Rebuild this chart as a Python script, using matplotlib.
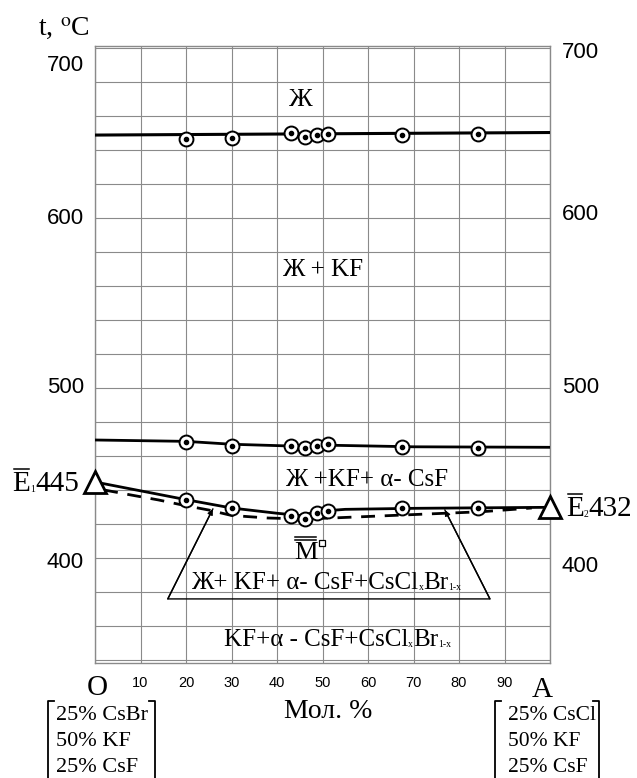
"""Polythermal section O-A of the CsBr-KF-CsF / CsCl-KF-CsF system."""

import matplotlib
matplotlib.use('Agg')
import matplotlib.pyplot as plt
from matplotlib.lines import Line2D

plt.rcParams['mathtext.fontset'] = 'stix'
SERIF = 'Liberation Serif'
SANS = 'Liberation Sans'

W, H = 637, 778

# composition, mol. % of A
pts_x = [20, 30, 43.0, 46.2, 48.8, 51.3, 67.5, 84.2]
# measured temperatures, °C
liquidus_t = [646.5, 647.0, 649.8, 647.8, 648.8, 649.4, 649.0, 649.2]
secondary_t = [468.4, 466.1, 465.9, 464.5, 465.9, 467.1, 465.5, 464.9]
ternary_t = [434.1, 429.2, 424.9, 423.0, 426.3, 427.8, 429.2, 429.2]

# drawn curves
liq_line_x = [0, 100]
liq_line_t = [648.8, 650.3]
sec_line_x = [0, 20, 30, 45, 52, 70, 100]
sec_line_t = [469.4, 468.6, 466.9, 465.7, 466.3, 465.4, 465.1]
ter_line_x = [0, 20, 30, 40, 45, 50, 55, 70, 100]
ter_line_t = [444.7, 434.3, 429.4, 426.3, 425.0, 427.6, 428.6, 429.2, 429.8]
dash_x = [2, 8, 14, 20, 25, 30, 38, 45, 52, 68, 85, 96]
dash_t = [440.0, 437.0, 434.1, 430.7, 428.2, 425.0, 423.5, 423.0, 423.5, 425.3, 427.2, 429.4]

# eutectic points of the side systems
eut_x = [0, 100]
eut_t = [444.7, 429.8]
eut_sub = ['1', '2']
eut_val = ['445', '432']

# point M
m_x = [49.9]
m_t = [408.8]

# trapezoid pointer for the four-phase field
trap_x = [25.9, 16.0, 86.8, 76.9]
trap_t = [428.8, 375.9, 375.9, 428.2]

x_ticks = [10, 20, 30, 40, 50, 60, 70, 80, 90]
left_labels = ['700', '600', '500', '400']
left_label_t = [690, 600, 500, 397.6]
right_labels = ['700', '600', '500', '400']
right_label_t = [697.6, 601.8, 500, 394.7]

comp_o = ['25% CsBr', '50% KF', '25% CsF']
comp_a = ['25% CsCl', '50% KF', '25% CsF']


def fx(px):
    return px / W


def fy(py):
    return 1 - py / H


fig = plt.figure(figsize=(W / 100, H / 100), dpi=100)
renderer = fig.canvas.get_renderer()


def pieces(x, y, parts, ha='left'):
    """Draw text pieces (text, size, rise_px) on one baseline; x, y in image px."""
    objs = []
    widths = []
    for s, size, rise in parts:
        t = fig.text(0, 0, s, family=SERIF, fontsize=size, va='baseline', ha='left')
        widths.append(t.get_window_extent(renderer).width)
        objs.append((t, rise))
    total = sum(widths)
    x0 = x - total / 2 if ha == 'center' else (x - total if ha == 'right' else x)
    boxes = []
    for (t, rise), w in zip(objs, widths):
        t.set_position((fx(x0), fy(y - rise)))
        bb = t.get_window_extent(renderer)
        boxes.append((bb.x0, H - bb.y1, bb.x1, H - bb.y0))
        x0 += w
    return boxes


def overbar(box, n, gap=3.0, pad=1.5):
    x0, top, x1, _ = box
    for k in range(n):
        yy = top - 2 - k * gap
        fig.add_artist(Line2D([fx(x0 + pad), fx(x1 - pad)], [fy(yy), fy(yy)],
                              color='black', lw=1.1))


ax = fig.add_axes([fx(95), fy(663), fx(550) - fx(95), fy(46) - fy(663)])
ax.set_xlim(0, 100)
ax.set_ylim(338.2, 701.2)
ax.set_xticks(range(0, 101, 10))
ax.set_yticks(range(340, 701, 20))
ax.tick_params(length=0, labelbottom=False, labelleft=False)
ax.grid(True, color='#8a8a8a', lw=0.8)
for sp in ax.spines.values():
    sp.set_color('#8a8a8a')
    sp.set_linewidth(1.0)

# curves
ax.plot(liq_line_x, liq_line_t, color='black', lw=2.2, zorder=3)
ax.plot(sec_line_x, sec_line_t, color='black', lw=2.0, zorder=3)
ax.plot(ter_line_x, ter_line_t, color='black', lw=2.0, zorder=3)
ax.plot(dash_x, dash_t, color='black', lw=2.0, ls=(0, (5, 3.5)), zorder=3)

# experimental points
for ts in (liquidus_t, secondary_t, ternary_t):
    ax.plot(pts_x, ts, 'o', ms=10, mfc='white', mec='black', mew=1.4, zorder=4)
    ax.plot(pts_x, ts, 'o', ms=3, color='black', zorder=5)

ax.plot(eut_x, eut_t, '^', ms=16, mfc='white', mec='black', mew=2.0,
        zorder=6, clip_on=False)
ax.plot(m_x, m_t, 's', ms=5, mfc='white', mec='black', mew=0.9, zorder=6)

# pointer lines
ax.plot(trap_x, trap_t, color='black', lw=1.0, zorder=3)
for i0, i1 in ((1, 0), (2, 3)):
    ax.annotate('', xy=(trap_x[i1], trap_t[i1]), xytext=(trap_x[i0], trap_t[i0]),
                arrowprops=dict(arrowstyle='-|>', color='black', lw=1.0,
                                mutation_scale=8, shrinkA=0, shrinkB=0))

# phase field labels
ax.text(45.3, 669.4, 'Ж', family=SERIF, fontsize=19, ha='center', va='center')
ax.text(50.0, 569.4, 'Ж + KF', family=SERIF, fontsize=18, ha='center', va='center')
ax.text(59.7, 445.9, 'Ж +KF+ α- CsF', family=SERIF, fontsize=18,
        ha='center', va='center')
mbox = pieces(305.5, 559, [('M', 19, 0)], ha='center')
overbar(mbox[0], 2)
pieces(326.5, 589, [('Ж+ KF+ α- CsF+CsCl', 18, 0), ('x', 7, -1),
                    ('Br', 18, 0), ('1-x', 7, -1)], ha='center')
pieces(337.5, 646, [('KF+α - CsF+CsCl', 18, 0), ('x', 7, -1),
                    ('Br', 18, 0), ('1-x', 7, -1)], ha='center')

# eutectic labels
b1 = pieces(79, 491, [('E', 21, 0), (eut_sub[0], 7, -1), (eut_val[0], 21, 0)],
            ha='right')
overbar(b1[0], 1)
b2 = pieces(566, 516, [('E', 21, 0), (eut_sub[1], 7, -1), (eut_val[1], 21, 0)],
            ha='left')
overbar(b2[0], 1)

# temperature labels
for lab, t in zip(left_labels, left_label_t):
    ax.text(-2.4, t, lab, family=SANS, fontsize=16, ha='right', va='center')
for lab, t in zip(right_labels, right_label_t):
    ax.text(102.6, t, lab, family=SANS, fontsize=16, ha='left', va='center')

for x in x_ticks:
    fig.text(fx(95 + 4.55 * x), fy(683), str(x), family=SANS, fontsize=10.5,
             ha='center', va='center')

fig.text(fx(38), fy(28), r't, $^{\mathrm{o}}$C', family=SERIF, fontsize=20,
         ha='left', va='center')
fig.text(fx(97), fy(688), 'O', family=SERIF, fontsize=21, ha='center', va='center')
fig.text(fx(542), fy(690), 'A', family=SERIF, fontsize=21, ha='center', va='center')
fig.text(fx(328), fy(712), 'Мол. %', family=SERIF, fontsize=20,
         ha='center', va='center')

# composition boxes
for i, s in enumerate(comp_o):
    fig.text(fx(56), fy(716 + 25.5 * i), s, family=SERIF, fontsize=16,
             ha='left', va='center')
for i, s in enumerate(comp_a):
    fig.text(fx(508), fy(716 + 25.5 * i), s, family=SERIF, fontsize=15.5,
             ha='left', va='center')


def bracket(x0, x1, ytop):
    for xb, xs in ((x0, x0 + 6), (x1, x1 - 6)):
        fig.add_artist(Line2D([fx(xs), fx(xb), fx(xb)], [fy(ytop), fy(ytop), fy(H + 5)],
                              color='black', lw=1.3))


bracket(48, 155, 701)
bracket(495, 599, 701)

fig.savefig('out.png', dpi=100, facecolor='white')
